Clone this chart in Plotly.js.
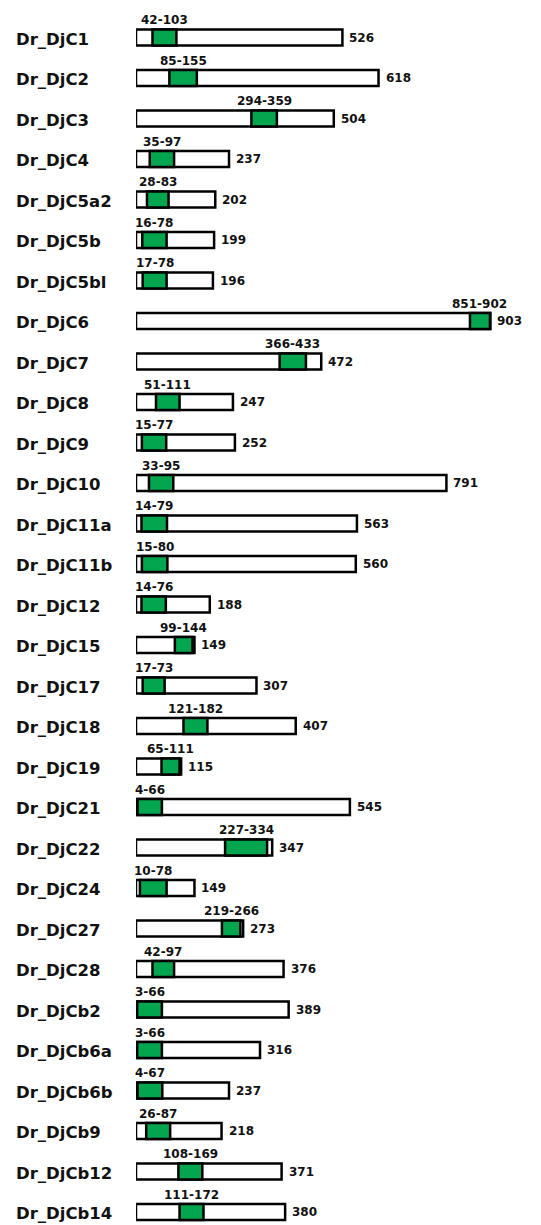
<!DOCTYPE html>
<html>
<head>
<meta charset="utf-8">
<script src="https://cdn.plot.ly/plotly-3.0.1.min.js"></script>
<style>
  html, body { margin: 0; padding: 0; background: #fff; }
  #chart { width: 541px; height: 1225px; }
</style>
</head>
<body>
<div id="chart"></div>
<script>
// Dr_DjC family: full protein length and J-domain position (amino acids)
const proteins = [
  "Dr_DjC1", "Dr_DjC2", "Dr_DjC3", "Dr_DjC4", "Dr_DjC5a2", "Dr_DjC5b", "Dr_DjC5bl",
  "Dr_DjC6", "Dr_DjC7", "Dr_DjC8", "Dr_DjC9", "Dr_DjC10", "Dr_DjC11a", "Dr_DjC11b",
  "Dr_DjC12", "Dr_DjC15", "Dr_DjC17", "Dr_DjC18", "Dr_DjC19", "Dr_DjC21", "Dr_DjC22",
  "Dr_DjC24", "Dr_DjC27", "Dr_DjC28", "Dr_DjCb2", "Dr_DjCb6a", "Dr_DjCb6b", "Dr_DjCb9",
  "Dr_DjCb12", "Dr_DjCb14"
];
const lengths = [
  526, 618, 504, 237, 202, 199, 196,
  903, 472, 247, 252, 791, 563, 560,
  188, 149, 307, 407, 115, 545, 347,
  149, 273, 376, 389, 316, 237, 218,
  371, 380
];
const domainStart = [
  42, 85, 294, 35, 28, 16, 17,
  851, 366, 51, 15, 33, 14, 15,
  14, 99, 17, 121, 65, 4, 227,
  10, 219, 42, 3, 3, 4, 26,
  108, 111
];
const domainEnd = [
  103, 155, 359, 97, 83, 78, 78,
  902, 433, 111, 77, 95, 79, 80,
  76, 144, 73, 182, 111, 66, 334,
  78, 266, 97, 66, 66, 67, 87,
  169, 172
];

const FONT = "DejaVu Sans, Liberation Sans, Arial, sans-serif";
const BAR_W = 0.4;
const EDGE = 2.5;

const fullBars = {
  type: "bar",
  orientation: "h",
  y: proteins,
  x: lengths,
  base: proteins.map(() => 0),
  width: BAR_W,
  marker: { color: "#ffffff", line: { color: "#000000", width: EDGE } },
  hoverinfo: "skip",
  showlegend: false
};

const domainBars = {
  type: "bar",
  orientation: "h",
  y: proteins,
  x: domainEnd.map((e, i) => e - domainStart[i]),
  base: domainStart,
  width: BAR_W,
  marker: { color: "#03a54f", line: { color: "#000000", width: EDGE } },
  hoverinfo: "skip",
  showlegend: false
};

const annotations = [];
proteins.forEach((name, i) => {
  // protein name on the left
  annotations.push({
    xref: "paper", yref: "y",
    x: -0.301, y: name,
    xanchor: "left", yanchor: "middle",
    yshift: -1.5,
    text: name, showarrow: false,
    font: { family: FONT, size: 16.5, color: "#111", weight: "bold" }
  });
  // J-domain range above the bar
  annotations.push({
    xref: "x", yref: "y",
    x: (domainStart[i] + domainEnd[i]) / 2, y: name,
    xanchor: "center", yanchor: "middle",
    yshift: 17.5,
    text: domainStart[i] + "-" + domainEnd[i], showarrow: false,
    font: { family: FONT, size: 12, color: "#111", weight: "bold" }
  });
  // total length to the right
  annotations.push({
    xref: "x", yref: "y",
    x: lengths[i], y: name,
    xanchor: "left", yanchor: "middle",
    xshift: 5,
    text: String(lengths[i]), showarrow: false,
    font: { family: FONT, size: 12, color: "#111", weight: "bold" }
  });
});

const layout = {
  width: 541,
  height: 1225,
  margin: { l: 136, r: 0, t: 0, b: 0, pad: 0 },
  paper_bgcolor: "#ffffff",
  plot_bgcolor: "#ffffff",
  barmode: "overlay",
  showlegend: false,
  hovermode: false,
  xaxis: {
    range: [0, 1032], autorange: false,
    visible: false, showgrid: false, zeroline: false, fixedrange: true
  },
  yaxis: {
    type: "category",
    categoryorder: "array", categoryarray: proteins,
    range: [29.321, -0.926], autorange: false,
    visible: false, showgrid: false, zeroline: false, fixedrange: true
  },
  annotations: annotations
};

Plotly.newPlot("chart", [fullBars, domainBars], layout, { displayModeBar: false, staticPlot: true });
</script>
</body>
</html>
